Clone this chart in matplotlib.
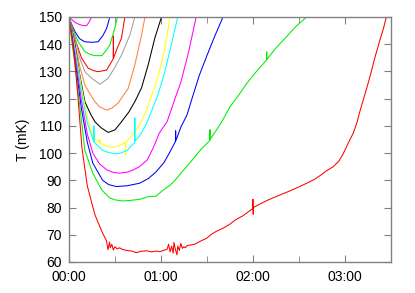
import matplotlib
matplotlib.use("Agg")
import matplotlib.pyplot as plt
from matplotlib.ticker import MultipleLocator

plt.rcParams["font.family"] = ["Liberation Sans", "DejaVu Sans"]

# time in minutes, temperature in mK, one run per colour
magenta1_t = [0, 2, 4, 7, 9, 11.5, 13, 14.8]
magenta1_T = [150, 149, 148, 147.2, 146.9, 146.8, 148, 150]

blue1_t = [0, 2, 4, 7, 10.4, 15, 19, 22, 24.6, 26.7]
blue1_T = [150, 147, 144.6, 142, 140.9, 140.7, 140.9, 143, 145.8, 150]

green1_t = [0, 3, 6, 10.4, 14, 17, 21.5, 24, 26.7, 30, 31.7]
green1_T = [150, 145, 141, 137.3, 136.2, 135.8, 135.8, 137.5, 139.7, 146, 150]

red1_t = [0, 2, 4, 8.3, 12.6, 16, 19, 24.6, 28.9, 29, 29.1, 31.5, 34.3, 36.5]
red1_T = [150, 146, 142, 134.8, 131.2, 130.3, 129.9, 130.5, 134.6, 143, 134.9, 138.5, 142.2, 150]

gray_t = [0, 2, 4, 7, 10.4, 14.8, 20.2, 25.6, 30, 34.3, 39.8, 43]
gray_T = [150, 146, 142.5, 135, 129.9, 127.5, 125.3, 127.5, 131.5, 136, 143.4, 150]

orange_t = [0, 2, 4, 7, 10.4, 14, 17, 20, 24.6, 28, 32, 38.7, 43, 47.4, 49.6]
orange_T = [150, 145.5, 140.5, 132, 125, 121.5, 118.9, 117, 115.8, 116.5, 118.3, 123.8, 132.4, 143.4, 150]

black_t = [0, 2, 4, 7, 10.4, 14, 17, 21, 25.6, 30, 34.3, 39, 43, 47.4, 51.7, 56, 60.4]
black_T = [150, 145, 139.5, 129, 118.9, 114.5, 111.5, 109.3, 107.6, 108.5, 111.5, 115, 118.9, 124, 132.4, 142.2, 150]

yellow_t = [0, 2, 4, 8, 12, 15.6, 20, 20.2, 20.4, 24, 29, 33, 36.9, 37, 37.1, 41, 46, 50, 54, 56, 59, 62.6, 65.9]
yellow_T = [150, 144.5, 138.5, 125, 113, 106, 103.8, 105, 103.7, 102.6, 102.1, 102.8, 104, 99.3, 104.1, 106.2, 110.3, 115, 121.3, 124, 130, 138.5, 150]

cyan_t = [0, 2, 4, 8, 12, 16.2, 16.3, 16.4, 22, 26, 30, 34, 38, 42.9, 43, 43.1, 46, 50, 53, 56, 58, 62.6, 66, 71]
cyan_T = [150, 144, 138, 123, 111, 104.2, 110, 104.1, 101, 100.2, 99.7, 100, 101, 103.9, 113, 104.5, 106.2, 110, 114, 118.5, 121.3, 129.9, 138, 150]

magenta2_t = [0, 2, 4, 8, 12, 15.6, 20, 24.8, 29, 33, 38, 42, 46, 51, 55, 59, 64, 70, 73, 78, 83]
magenta2_T = [150, 143.5, 136, 120, 107, 100, 96, 93.8, 92.9, 92.6, 93, 93.8, 95, 97.4, 101.9, 107.4, 111.5, 121.3, 126, 137, 150]

blue2_t = [0, 2, 4, 8, 12, 15.6, 22, 26, 31, 38, 46, 52, 57, 62, 66, 69.5, 69.6, 69.7, 73, 77, 80, 85, 90, 95, 100.5]
blue2_T = [150, 142.5, 134, 117, 104, 96.3, 90, 88.4, 87.7, 88, 88.9, 90.7, 93.2, 96.5, 100.5, 104.3, 108.2, 104.5, 109.5, 114, 119.5, 128.5, 135.8, 142.8, 150]

green2_t = [0, 2, 4, 8, 10.4, 15.6, 21.5, 26.7, 30, 35, 40, 46, 52, 57, 61, 66, 70, 74, 78, 82, 86, 91.9, 92, 92.1, 96, 100, 105, 110, 116, 122, 128.9, 129, 129.1, 135, 142, 148, 155]
green2_T = [150, 141, 132, 113, 101, 92.6, 86.4, 83.5, 82.8, 82.4, 82.6, 83, 84, 84.2, 86.2, 88.2, 90.5, 93.3, 95.8, 98.5, 101.3, 104.6, 108.6, 105, 108.3, 111.8, 117, 120.7, 125.6, 129.8, 134.2, 137.2, 134.4, 138.6, 142.8, 146.5, 150]

red2_t = [0, 2, 4, 6, 8.5, 12, 15, 17, 20, 22, 24.5, 25.5, 26.5, 27, 28, 29, 30, 31.5, 33, 35, 38, 41, 44, 47, 50.6, 54, 57, 59.3, 62, 64, 65, 66, 67, 68, 68.5, 69.5, 70.5, 71, 72, 73, 74, 75, 76, 77, 79, 82, 86, 89.8, 93, 96, 100.6, 105, 109, 113, 116, 119.9, 120, 120.2, 120.4, 124, 130, 137.6, 145, 150, 155, 160, 165, 168, 172.4, 176, 179, 182, 185.4, 188, 190, 193, 196.3, 199.5, 202.8, 205, 207]
red2_T = [150, 142, 133, 120, 102, 88, 81.5, 77.3, 73.2, 70.6, 67.8, 64.5, 67.3, 65.2, 66.5, 64.4, 65.6, 64.8, 65.2, 64.6, 64.2, 64, 63.4, 63.9, 64.1, 63.7, 64, 63.8, 64.3, 64.6, 66.5, 63.7, 65.8, 63.2, 67.2, 64.5, 62.6, 65.9, 64.2, 66.8, 65, 65.6, 65.2, 66, 66.2, 66.5, 67.7, 68.7, 70.2, 71.2, 72.4, 73.9, 75.6, 76.8, 78, 79.6, 83, 77.5, 80, 81.1, 82.8, 84.6, 86.3, 87.6, 88.9, 90.3, 92.2, 93.5, 95, 97, 99.9, 103.5, 107.3, 111.5, 115.8, 121.5, 128, 135, 141.5, 145.5, 150]

runs = [
    (magenta1_t, magenta1_T, "#ff00ff"),
    (blue1_t, blue1_T, "#0000ff"),
    (green1_t, green1_T, "#00ee00"),
    (red1_t, red1_T, "#ff0000"),
    (gray_t, gray_T, "#a0a0a0"),
    (orange_t, orange_T, "#ff7f3f"),
    (black_t, black_T, "#000000"),
    (yellow_t, yellow_T, "#ffff00"),
    (cyan_t, cyan_T, "#00ffff"),
    (magenta2_t, magenta2_T, "#ff00ff"),
    (blue2_t, blue2_T, "#0000ff"),
    (green2_t, green2_T, "#00ee00"),
    (red2_t, red2_T, "#ff0000"),
]

x_ticks = [0, 60, 120, 180]
x_labels = ["00:00", "01:00", "02:00", "03:00"]

fig = plt.figure(figsize=(4.15, 2.93), dpi=100)
ax = fig.add_axes([0.166, 0.106, 0.776, 0.836])

for t, T, c in runs:
    ax.plot(t, T, color=c, linewidth=0.75)

ax.set_xlim(0, 210)
ax.set_ylim(60, 150)
ax.set_xticks(x_ticks)
ax.set_xticklabels(x_labels)
ax.xaxis.set_minor_locator(MultipleLocator(30))
ax.yaxis.set_major_locator(MultipleLocator(10))
ax.set_ylabel("T (mK)", fontsize=10, labelpad=6)

edge = "#808080"
for s in ax.spines.values():
    s.set_color(edge)
    s.set_linewidth(1.0)
ax.tick_params(which="both", direction="in", top=True, right=True, color=edge, labelsize=10)
ax.tick_params(axis="y", pad=5)
ax.tick_params(axis="x", pad=6)
ax.tick_params(which="major", length=5)
ax.tick_params(which="minor", length=4)

fig.savefig("out.png", dpi=100)
